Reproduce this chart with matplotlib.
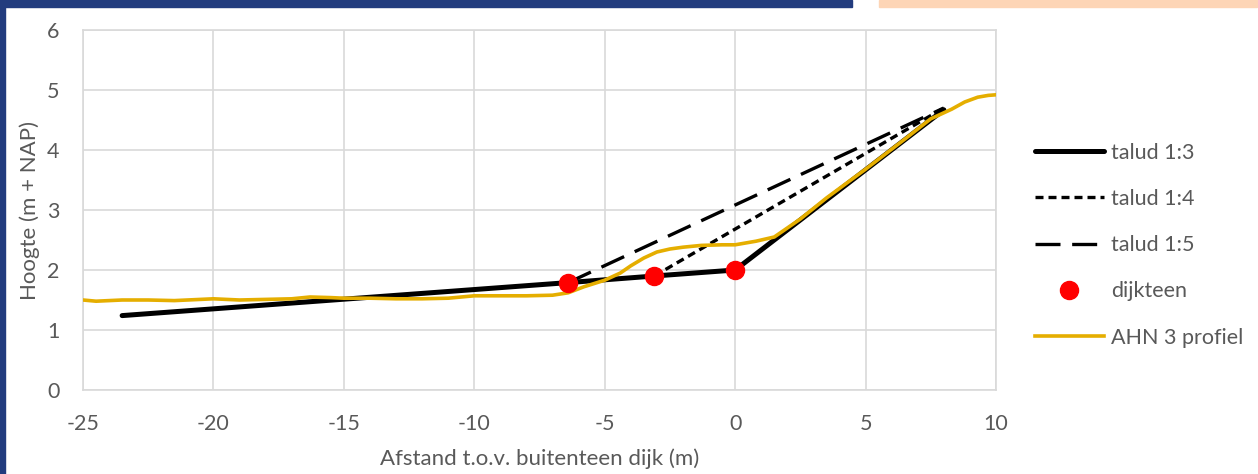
import matplotlib
matplotlib.use("Agg")
import matplotlib.pyplot as plt
from matplotlib.patches import Rectangle

plt.rcParams['font.family'] = ['Lato', 'DejaVu Sans']
plt.rcParams['axes.unicode_minus'] = False

# Data
talud13_x = [-23.5, -6.4, -3.1, 0.0, 8.0]
talud13_y = [1.24, 1.79, 1.9, 2.0, 4.67]
talud14_x = [-3.1, 8.0]
talud14_y = [1.9, 4.7]
talud15_x = [-6.4, 8.0]
talud15_y = [1.79, 4.7]
teen_x = [-6.4, -3.1, 0.0]
teen_y = [1.79, 1.9, 2.0]
ahn_x = [-25, -24.5, -23.5, -22.5, -21.5, -20.5, -20, -19, -18, -17, -16.3, -15.5, -15,
         -14, -13, -12, -11, -10.5, -10, -9, -8, -7, -6.4, -5.8, -5, -4.4, -4, -3.5, -3,
         -2.5, -2, -1.3, -0.5, 0, 0.8, 1.5, 2.5, 3.5, 5, 6.5, 7.5, 8.3, 8.8, 9.3, 9.7, 10]
ahn_y = [1.5, 1.48, 1.5, 1.5, 1.49, 1.51, 1.52, 1.5, 1.51, 1.52, 1.55, 1.54, 1.53,
         1.53, 1.52, 1.52, 1.53, 1.55, 1.57, 1.57, 1.57, 1.58, 1.62, 1.72, 1.83, 1.95, 2.07, 2.2, 2.3,
         2.35, 2.38, 2.41, 2.42, 2.42, 2.48, 2.55, 2.85, 3.2, 3.68, 4.18, 4.52, 4.68, 4.8, 4.88, 4.91, 4.92]

xticks = [-25, -20, -15, -10, -5, 0, 5, 10]
yticks = [0, 1, 2, 3, 4, 5, 6]

fig = plt.figure(figsize=(12.58, 4.74), dpi=100)
ax = fig.add_axes([83/1258, 1-390/474, (996-83)/1258, 360/474])

grid_c = '#d9d9d9'
text_c = '#595959'

ax.plot(talud13_x, talud13_y, color='black', lw=3.6, solid_capstyle='round', label='talud 1:3', zorder=4)
ax.plot(talud14_x, talud14_y, color='black', lw=2.4, dashes=(2.4, 1.5), label='talud 1:4', zorder=4)
ax.plot(talud15_x, talud15_y, color='black', lw=2.4, dashes=(7.5, 3.5), label='talud 1:5', zorder=4)
ax.plot(teen_x, teen_y, 'o', color='#ff0000', ms=13, mec='#ff0000', label='dijkteen', zorder=6)
ax.plot(ahn_x, ahn_y, color='#e5ae00', lw=2.6, label='AHN 3 profiel', zorder=5)

ax.set_xlim(-25, 10)
ax.set_ylim(0, 6)
ax.set_xticks(xticks)
ax.set_yticks(yticks)
ax.grid(True, color=grid_c, lw=1.2)
ax.set_axisbelow(True)
for s in ax.spines.values():
    s.set_color(grid_c)
    s.set_linewidth(1.2)
ax.tick_params(length=0, labelsize=15.5, colors=text_c)
ax.tick_params(axis='x', pad=17)
ax.tick_params(axis='y', pad=17)

ax.set_xlabel('Afstand t.o.v. buitenteen dijk (m)', fontsize=16, color=text_c, labelpad=11)
ax.set_ylabel('Hoogte (m + NAP)', fontsize=16, color=text_c, labelpad=5)

leg = fig.legend(loc='upper left', bbox_to_anchor=(1026/1258, 1-134/474), frameon=False,
                 fontsize=15.5, handlelength=3.2, labelspacing=1.22, handletextpad=0.35,
                 labelcolor=text_c, borderaxespad=0)

# Decorative bars
fig.patches.append(Rectangle((0, 1-7/474), 852/1258, 7/474, transform=fig.transFigure,
                             color='#223c7e', zorder=0))
fig.patches.append(Rectangle((879/1258, 1-7/474), 378/1258, 7/474, transform=fig.transFigure,
                             color='#fdd5b6', zorder=0))
fig.patches.append(Rectangle((0, 0), 5/1258, 1, transform=fig.transFigure,
                             color='#223c7e', zorder=0))

fig.savefig('out.png', dpi=100)
